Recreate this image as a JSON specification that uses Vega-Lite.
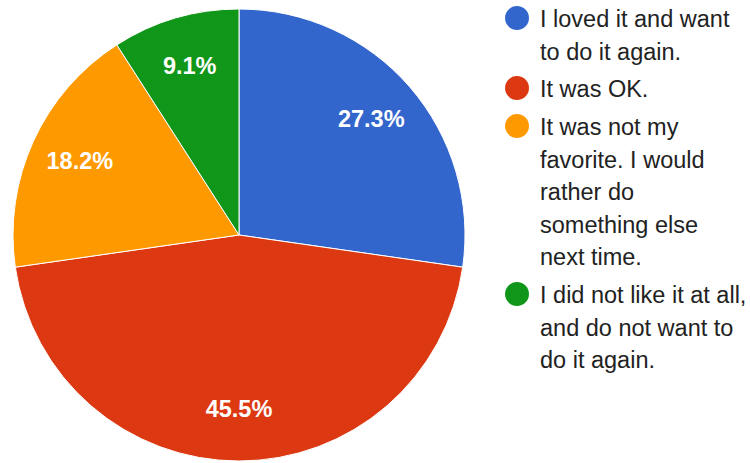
{
  "$schema": "https://vega.github.io/schema/vega-lite/v6.json",
  "width": 478,
  "height": 462,
  "autosize": {"type": "none"},
  "padding": {"top": 4, "left": 0, "right": 272, "bottom": 0},
  "background": "white",
  "config": {
    "view": {"stroke": null},
    "font": "Liberation Sans",
    "style": {"guide-label": {"lineHeight": 32.5}}
  },
  "data": {
    "values": [
      {"option": 1, "answer": "I loved it and want\nto do it again.", "share": 0.273},
      {"option": 2, "answer": "It was OK.", "share": 0.455},
      {"option": 3, "answer": "It was not my\nfavorite. I would\nrather do\nsomething else\nnext time.", "share": 0.182},
      {"option": 4, "answer": "I did not like it at all,\nand do not want to\ndo it again.", "share": 0.091}
    ]
  },
  "encoding": {
    "theta": {"field": "share", "type": "quantitative", "stack": true},
    "order": {"field": "option", "type": "quantitative"},
    "color": {
      "field": "answer",
      "type": "nominal",
      "scale": {
        "domain": [
          "I loved it and want\nto do it again.",
          "It was OK.",
          "It was not my\nfavorite. I would\nrather do\nsomething else\nnext time.",
          "I did not like it at all,\nand do not want to\ndo it again."
        ],
        "range": ["#3366CC", "#DC3912", "#FF9900", "#109618"]
      },
      "legend": {
        "title": null,
        "orient": "none",
        "legendX": 505,
        "legendY": -8,
        "padding": 0,
        "symbolType": "M1,0.833C1,1.385,0.552,1.833,0,1.833C-0.552,1.833,-1,1.385,-1,0.833C-1,0.281,-0.552,-0.167,0,-0.167C0.552,-0.167,1,0.281,1,0.833Z",
        "symbolSize": 576,
        "symbolStrokeWidth": 0,
        "symbolOpacity": 1,
        "labelFont": "Liberation Sans",
        "labelFontSize": 23.5,
        "labelColor": "#222222",
        "labelBaseline": "top",
        "labelOffset": 11,
        "labelLimit": 400,
        "rowPadding": 2,
        "labelExpr": "split(datum.label, '\\n')"
      }
    }
  },
  "layer": [
    {"mark": {"type": "arc", "outerRadius": 226, "stroke": "#ffffff", "strokeWidth": 1}},
    {
      "mark": {"type": "text", "radius": 175, "fontSize": 23.5, "fontWeight": "bold", "font": "Liberation Sans"},
      "encoding": {
        "text": {"field": "share", "type": "quantitative", "format": ".1%"},
        "color": {"value": "#ffffff"},
        "detail": {"field": "answer", "type": "nominal"}
      }
    }
  ]
}
